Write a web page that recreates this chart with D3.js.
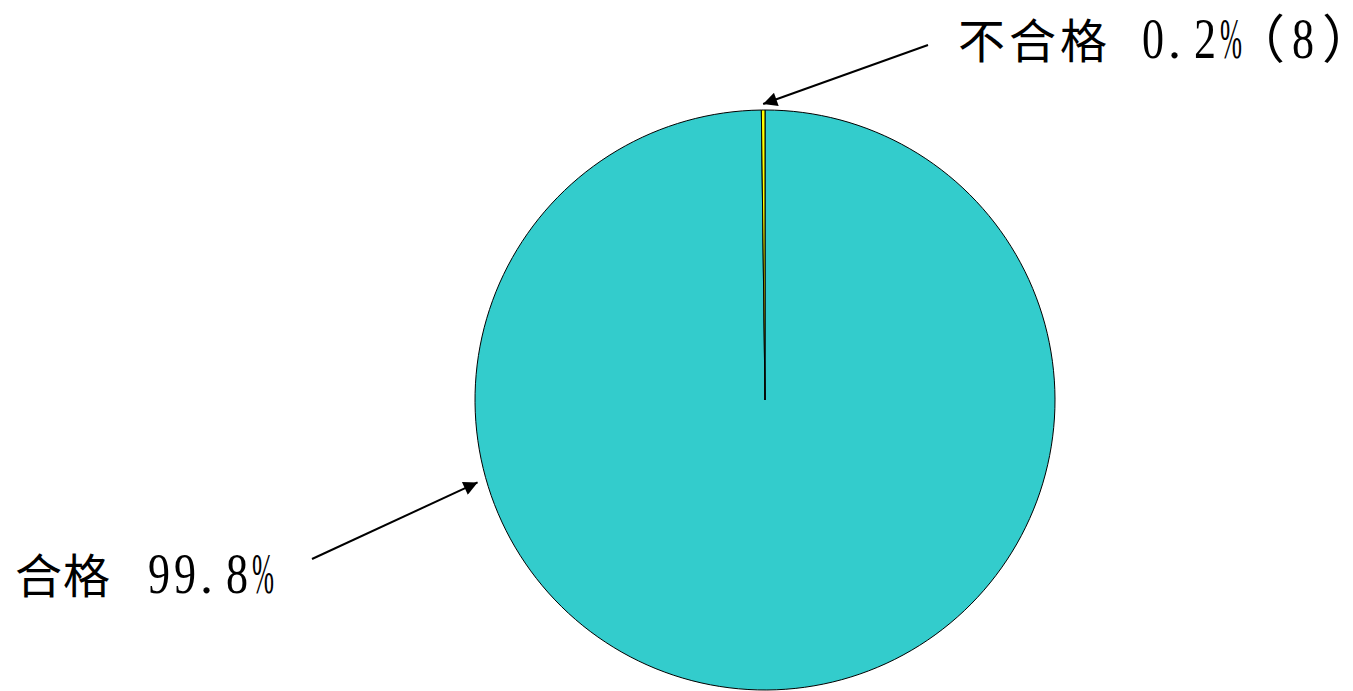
<!DOCTYPE html>
<html>
<head>
<meta charset="utf-8">
<script src="https://cdn.jsdelivr.net/npm/d3@7"></script>
<style>
  body { margin: 0; background: #fff; }
  svg { display: block; }
</style>
</head>
<body>
<div class="chart"></div>
<script>
var categories = ['合格', '不合格'];
var values = [99.8, 0.2];
var percentTexts = ['99.8%', '0.2%'];
var countTexts = ['', '（8）'];
var colors = ['#33CCCC', '#FFFF00'];

var width = 1353, height = 691;
var cx = 765, cy = 400, radius = 290;
var pitch = 26; // half-width character pitch of the label font

var svg = d3.select('.chart')
  .append('svg')
    .attr('width', width)
    .attr('height', height);

svg.append('defs').append('marker')
    .attr('id', 'head')
    .attr('viewBox', '0 0 10 10')
    .attr('refX', 10)
    .attr('refY', 5)
    .attr('markerUnits', 'userSpaceOnUse')
    .attr('markerWidth', 19)
    .attr('markerHeight', 14)
    .attr('orient', 'auto')
  .append('path')
    .attr('d', 'M0,0 L10,5 L0,10 Z')
    .attr('fill', '#000');

var pie = d3.pie().sort(null).value(d => d);
var arcs = pie(values);

var arc = d3.arc().innerRadius(0).outerRadius(radius);

var g = svg.append('g')
    .attr('transform', `translate(${cx}, ${cy})`);

g.selectAll('path')
  .data(arcs)
  .enter()
  .append('path')
    .attr('d', arc)
    .attr('fill', (d, i) => colors[i])
    .attr('stroke', '#000')
    .attr('stroke-width', 1)
    .attr('stroke-linejoin', 'round');

// annotation layout: where each arrow starts and which angle on the rim it points to
var notes = [
  {from: [312, 559], angle: -1.85, off: 9,
   text: {x: 15, y: 593, cjkLen: 95, numX: 148}},
  {from: [928, 45], angle: null, off: 6,
   text: {x: 958, y: 58, cjkLen: 149, numX: 1142, cntX: [1233, 1292, 1322]}}
];

// one tspan per half-width char so digits and % sit in fixed cells
function cells(t, s, xs) {
  Array.from(s).forEach(function(c, k) {
    var narrow = /[0-9%]/.test(c);
    var sp = t.append('tspan')
      .attr('x', xs[k])
      .attr('font-family', '"Liberation Serif", "Noto Sans CJK SC"')
      .attr('font-size', narrow ? 56 : 52)
      .text(c);
    if (narrow) sp.attr('textLength', 22).attr('lengthAdjust', 'spacingAndGlyphs');
  });
}

notes.forEach(function(n, i) {
  var a = n.angle == null ? (arcs[i].startAngle + arcs[i].endAngle) / 2 : n.angle;
  var r = radius + n.off;
  var tx = cx + r * Math.sin(a), ty = cy - r * Math.cos(a);

  svg.append('line')
    .attr('x1', n.from[0]).attr('y1', n.from[1])
    .attr('x2', tx).attr('y2', ty)
    .attr('stroke', '#000')
    .attr('stroke-width', 2)
    .attr('marker-end', 'url(#head)');

  var t = svg.append('text')
    .attr('y', n.text.y)
    .attr('fill', '#000');

  t.append('tspan')
    .attr('x', n.text.x)
    .attr('font-family', '"Noto Sans CJK SC"')
    .attr('font-size', 47)
    .attr('textLength', n.text.cjkLen)
    .attr('lengthAdjust', 'spacing')
    .text(categories[i]);

  var pct = percentTexts[i];
  cells(t, pct, Array.from(pct).map((c, k) => n.text.numX + k * pitch));

  if (countTexts[i]) cells(t, countTexts[i], n.text.cntX);
});
</script>
</body>
</html>
